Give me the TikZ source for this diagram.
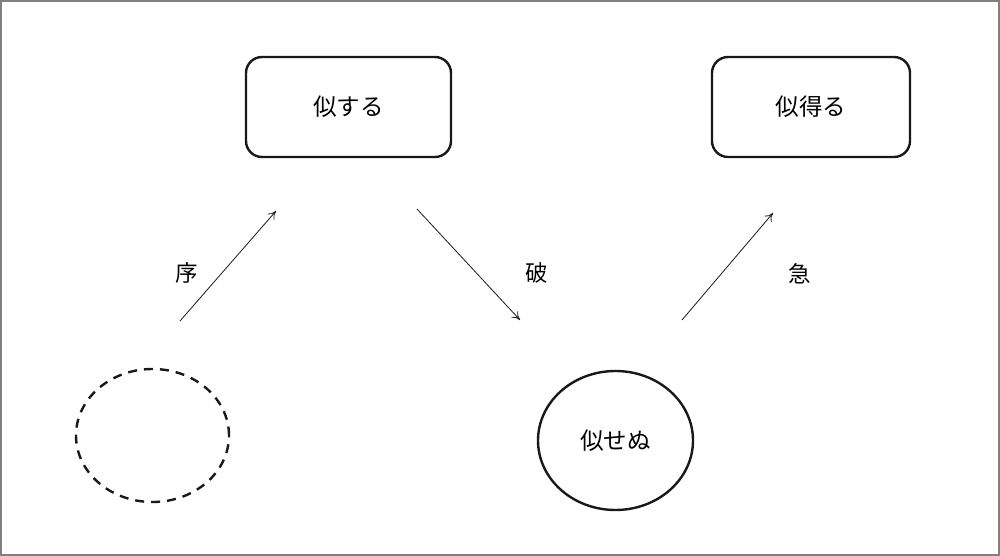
\documentclass[tikz,border=0pt]{standalone}
\usepackage{fontspec}
\newfontfamily\jpfont{Noto Sans CJK JP}
\usetikzlibrary{shapes.geometric,arrows.meta}
\begin{document}
\begin{tikzpicture}[x=1pt,y=-1pt,
  boxnode/.style={draw=black!90, line width=2.4pt, rounded corners=16pt, minimum width=205pt, minimum height=100pt, inner sep=0pt, font=\jpfont\fontsize{23.5}{27}\selectfont},
  ellnode/.style={ellipse, draw=black!90, line width=2.4pt, inner sep=0pt, font=\jpfont\fontsize{23.5}{27}\selectfont},
  lbl/.style={font=\jpfont\fontsize{22.5}{26}\selectfont, inner sep=0pt},
  arr/.style={-{To[length=8pt,width=9pt]}, line width=0.8pt, black!90}]
\useasboundingbox (0,0) rectangle (1000,556);
\draw[gray, line width=2pt] (1,1) rectangle (999,555);
\node[boxnode] (b1) at (348.5,107) {似する};
\node[boxnode, minimum width=198pt] (b2) at (811,107) {似得る};
\node[ellnode, dashed, dash pattern=on 9pt off 7pt, minimum width=153pt, minimum height=133pt] (e0) at (152.5,435.5) {};
\node[ellnode, minimum width=155pt, minimum height=139pt] (e1) at (615.5,440.5) {似せぬ};
\coordinate (a1s) at (180,321);
\coordinate (a1e) at (276,211);
\coordinate (a2s) at (417,209);
\coordinate (a2e) at (520,320);
\coordinate (a3s) at (682,320);
\coordinate (a3e) at (773,213);
\draw[arr] (a1s) -- (a1e);
\draw[arr] (a2s) -- (a2e);
\draw[arr] (a3s) -- (a3e);
\node[lbl] (l1) at (187,273) {序};
\node[lbl] (l2) at (537,273) {破};
\node[lbl] (l3) at (800,274) {急};
\end{tikzpicture}
\end{document}
